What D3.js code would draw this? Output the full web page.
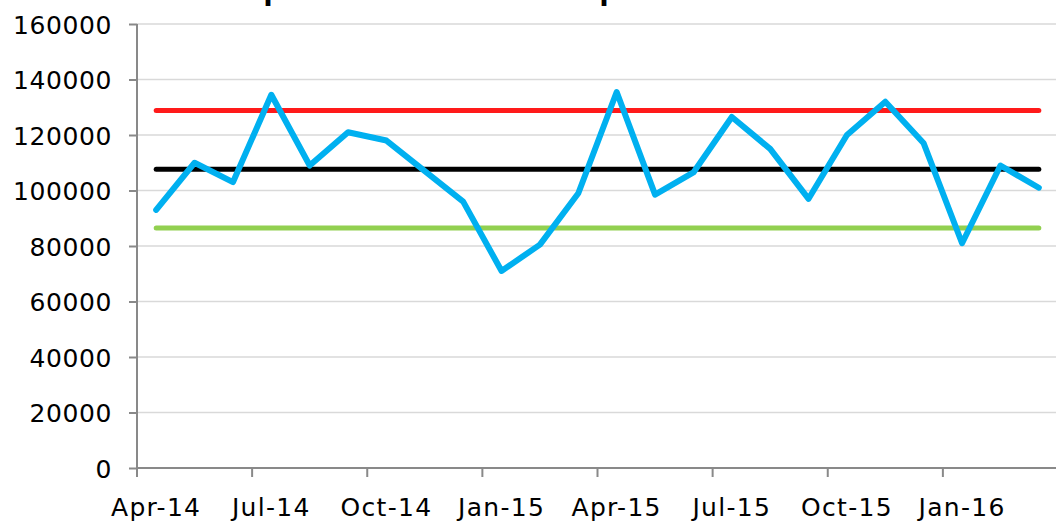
<!DOCTYPE html>
<html>
<head>
<meta charset="utf-8">
<script src="https://cdn.jsdelivr.net/npm/d3@7"></script>
<style>
  html, body { margin: 0; padding: 0; background: #fff; }
  svg { display: block; }
  text { font-family: "DejaVu Sans", sans-serif; }
</style>
</head>
<body>
<svg id="chart" width="1056" height="525"></svg>
<script>
// ---- data ----
const months = ["Apr-14","May-14","Jun-14","Jul-14","Aug-14","Sep-14","Oct-14","Nov-14","Dec-14",
                "Jan-15","Feb-15","Mar-15","Apr-15","May-15","Jun-15","Jul-15","Aug-15","Sep-15",
                "Oct-15","Nov-15","Dec-15","Jan-16","Feb-16","Mar-16"];
const values = [93000,110000,103000,134500,109000,121000,118000,107000,96000,
                71000,80500,99000,135500,98500,106500,126500,115000,97000,
                120000,132000,117000,81000,109000,101000];
const upperLimit = 128800;
const meanLine = 107700;
const lowerLimit = 86500;
const xTickLabels = ["Apr-14","Jul-14","Oct-14","Jan-15","Apr-15","Jul-15","Oct-15","Jan-16"];
const yTicks = [0,20000,40000,60000,80000,100000,120000,140000,160000];
const titleText = "Outpatient Attendances per Month";

(function () {
// ---- layout ----
const svg = d3.select("#chart");
const mLeft = 137, mRight = 1058, mTop = 24, mBottom = 468;

const x = d3.scaleBand().domain(months).range([mLeft, mRight]).padding(0);
const y = d3.scaleLinear().domain([0, 160000]).range([mBottom, mTop]);
const cx = m => x(m) + x.bandwidth() / 2;

// title (mostly above the visible area, only descenders show)
const title = svg.append("text")
  .attr("x", 0).attr("y", -1)
  .attr("font-size", 28).attr("font-weight", "bold")
  .attr("fill", "#000")
  .style("font-family", "'Liberation Sans', Arial, sans-serif")
  .text(titleText);
{
  const node = title.node();
  const i1 = titleText.indexOf("p");
  const i2 = titleText.indexOf("p", i1 + 1);
  const p1 = node.getStartPositionOfChar(i1).x;
  const p2 = node.getStartPositionOfChar(i2).x;
  const k = (602 - 266) / (p2 - p1);
  const fs = 28 * k;
  title.attr("font-size", fs);
  const q1 = node.getStartPositionOfChar(i1).x;
  title.attr("x", 266 - q1 - fs * 0.08);
}

// gridlines
svg.append("g").selectAll("line").data(yTicks.filter(d => d > 0)).join("line")
  .attr("x1", mLeft).attr("x2", 1056)
  .attr("y1", d => y(d)).attr("y2", d => y(d))
  .attr("stroke", "#d9d9d9").attr("stroke-width", 1.5);

// y axis
const yAxis = svg.append("g").attr("transform", `translate(${mLeft},0)`)
  .call(d3.axisLeft(y).tickValues(yTicks).tickFormat(d3.format("d")).tickSize(8).tickPadding(17));
yAxis.select(".domain").attr("stroke", "#898989").attr("stroke-width", 2)
  .attr("d", `M0,${mTop}V${mBottom}`);
yAxis.selectAll(".tick line").attr("stroke", "#898989").attr("stroke-width", 2);
yAxis.selectAll(".tick text").attr("font-size", 25).attr("fill", "#000")
  .attr("letter-spacing", 0.6)
  .style("font-family", "'DejaVu Sans', sans-serif").attr("dy", "0.36em");

// x axis
const xg = svg.append("g");
xg.append("line").attr("x1", mLeft).attr("x2", 1056).attr("y1", mBottom).attr("y2", mBottom)
  .attr("stroke", "#898989").attr("stroke-width", 2);
const tickMonths = months.filter((m, i) => i % 3 === 0);
xg.selectAll(".xt").data(tickMonths).join("line").attr("class", "xt")
  .attr("x1", d => x(d)).attr("x2", d => x(d))
  .attr("y1", mBottom).attr("y2", mBottom + 9)
  .attr("stroke", "#898989").attr("stroke-width", 2);
xg.selectAll(".xl").data(tickMonths).join("text").attr("class", "xl")
  .attr("x", d => cx(d)).attr("y", 516)
  .attr("text-anchor", "middle").attr("font-size", 25).attr("fill", "#000")
  .attr("letter-spacing", 1.3)
  .text((d, i) => xTickLabels[i]);

// reference lines
const first = months[0], last = months[months.length - 1];
[[upperLimit, "#ff1a1a"], [meanLine, "#000000"], [lowerLimit, "#92d050"]].forEach(([v, c]) => {
  svg.append("line")
    .attr("x1", cx(first)).attr("x2", cx(last))
    .attr("y1", y(v)).attr("y2", y(v))
    .attr("stroke", c).attr("stroke-width", 5).attr("stroke-linecap", "round");
});

// data line
const line = d3.line().x((d, i) => cx(months[i])).y(d => y(d));
svg.append("path").datum(values)
  .attr("d", line)
  .attr("fill", "none").attr("stroke", "#00b0f0").attr("stroke-width", 6)
  .attr("stroke-linejoin", "round").attr("stroke-linecap", "round");
})();
</script>
</body>
</html>
